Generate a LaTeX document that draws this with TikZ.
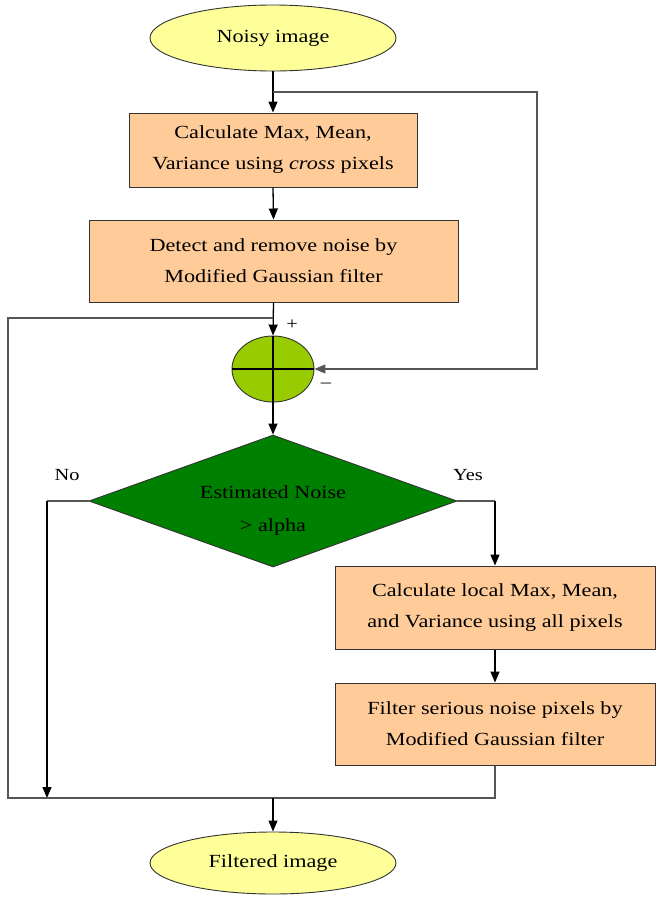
\documentclass[tikz,border=0pt]{standalone}
\usepackage{fontspec}
\setmainfont{Liberation Serif}[FakeStretch=1.2]
\usetikzlibrary{shapes.geometric,arrows.meta}
\definecolor{termfill}{HTML}{FFFF99}
\definecolor{boxfill}{HTML}{FFCC99}
\definecolor{sumfill}{HTML}{99CC00}
\definecolor{diafill}{HTML}{008000}
\definecolor{lnk}{HTML}{555555}
\begin{document}
\begin{tikzpicture}[x=1pt,y=-1pt,
  every node/.style={inner sep=0pt,font=\fontsize{18.5}{31}\selectfont},
  term/.style={ellipse,draw=black!80,line width=0.9pt,fill=termfill,minimum width=246pt,minimum height=66pt},
  procbox/.style={rectangle,draw=black!80,line width=1pt,fill=boxfill,align=center},
  sumnode/.style={ellipse,draw=black!80,line width=0.9pt,fill=sumfill,minimum width=82pt,minimum height=66pt},
  decision/.style={diamond,draw=black!80,line width=0.9pt,fill=diafill,minimum width=368pt,minimum height=132pt,align=center},
  arr/.style={line width=1.3pt,-{Triangle[length=11pt,width=9pt]}},
  feed/.style={line width=1.3pt,draw=lnk},
  feedarr/.style={line width=1.3pt,draw=lnk,-{Triangle[length=11pt,width=9pt]}},
  lbl/.style={font=\fontsize{17}{20}\selectfont}
]
\useasboundingbox (0,0) rectangle (656,897);
\fill[white] (0,0) rectangle (656,897);

\node[term] (noisy) at (273,38) {Noisy image};
\node[procbox,minimum width=288pt,minimum height=74pt] (calc) at (273,150)
  {Calculate Max, Mean,\\Variance using \textit{cross} pixels};
\node[procbox,minimum width=369pt,minimum height=82pt] (detect) at (273.5,261)
  {Detect and remove noise by\\Modified Gaussian filter};
\node[sumnode] (sum) at (273,369) {};
\node[decision] (dec) at (273,501) {};
\node (dectext) at (273,508) {\fontsize{18.5}{33}\selectfont\begin{tabular}{@{}c@{}}Estimated Noise\\[0pt] > alpha\end{tabular}};
\node[procbox,minimum width=320pt,minimum height=83pt] (local) at (495,607.5)
  {Calculate local Max, Mean,\\and Variance using all pixels};
\node[procbox,minimum width=320pt,minimum height=82pt] (serious) at (495,724)
  {Filter serious noise pixels by\\Modified Gaussian filter};
\node[term,minimum height=62pt] (filtered) at (273,863) {Filtered image};

\node[lbl] (plus) at (292,325) {+};
\node[lbl] (minus) at (326,385) {\textendash};
\node[lbl] (no) at (67,475) {No};
\node[lbl] (yes) at (468,475) {Yes};

\coordinate (split) at (273,92);
\coordinate (fbR1) at (537,92);
\coordinate (fbR2) at (537,369);
\coordinate (joinL) at (273,318);
\coordinate (cornerTL) at (8,318);
\coordinate (cornerBL) at (8,798);
\coordinate (noCorner) at (47,501);
\coordinate (noEnd) at (47,798);
\coordinate (yesCorner) at (495,501);
\coordinate (serCorner) at (495,798);
\coordinate (mergeB) at (273,798);

\draw[arr] (noisy.south) -- (calc.north);
\draw[feedarr] (split) -- (fbR1) -- (fbR2) -- (sum.east);
\draw[arr] (calc.south) -- (detect.north);
\draw[arr] (detect.south) -- (sum.north);
\draw[line width=1.1pt] (sum.north) -- (sum.south);
\draw[line width=1.1pt] (sum.west) -- (sum.east);
\draw[arr] (sum.south) -- (dec.north);
\draw[feed] (dec.west) -- (noCorner);
\draw[arr,draw=black] (noCorner) -- (noEnd);
\draw[feed] (dec.east) -- (yesCorner);
\draw[arr] (yesCorner) -- (local.north);
\draw[arr] (local.south) -- (serious.north);
\draw[feed] (serious.south) -- (serCorner) -- (cornerBL) -- (cornerTL) -- (joinL);
\draw[arr] (mergeB) -- (filtered.north);
\end{tikzpicture}
\end{document}
